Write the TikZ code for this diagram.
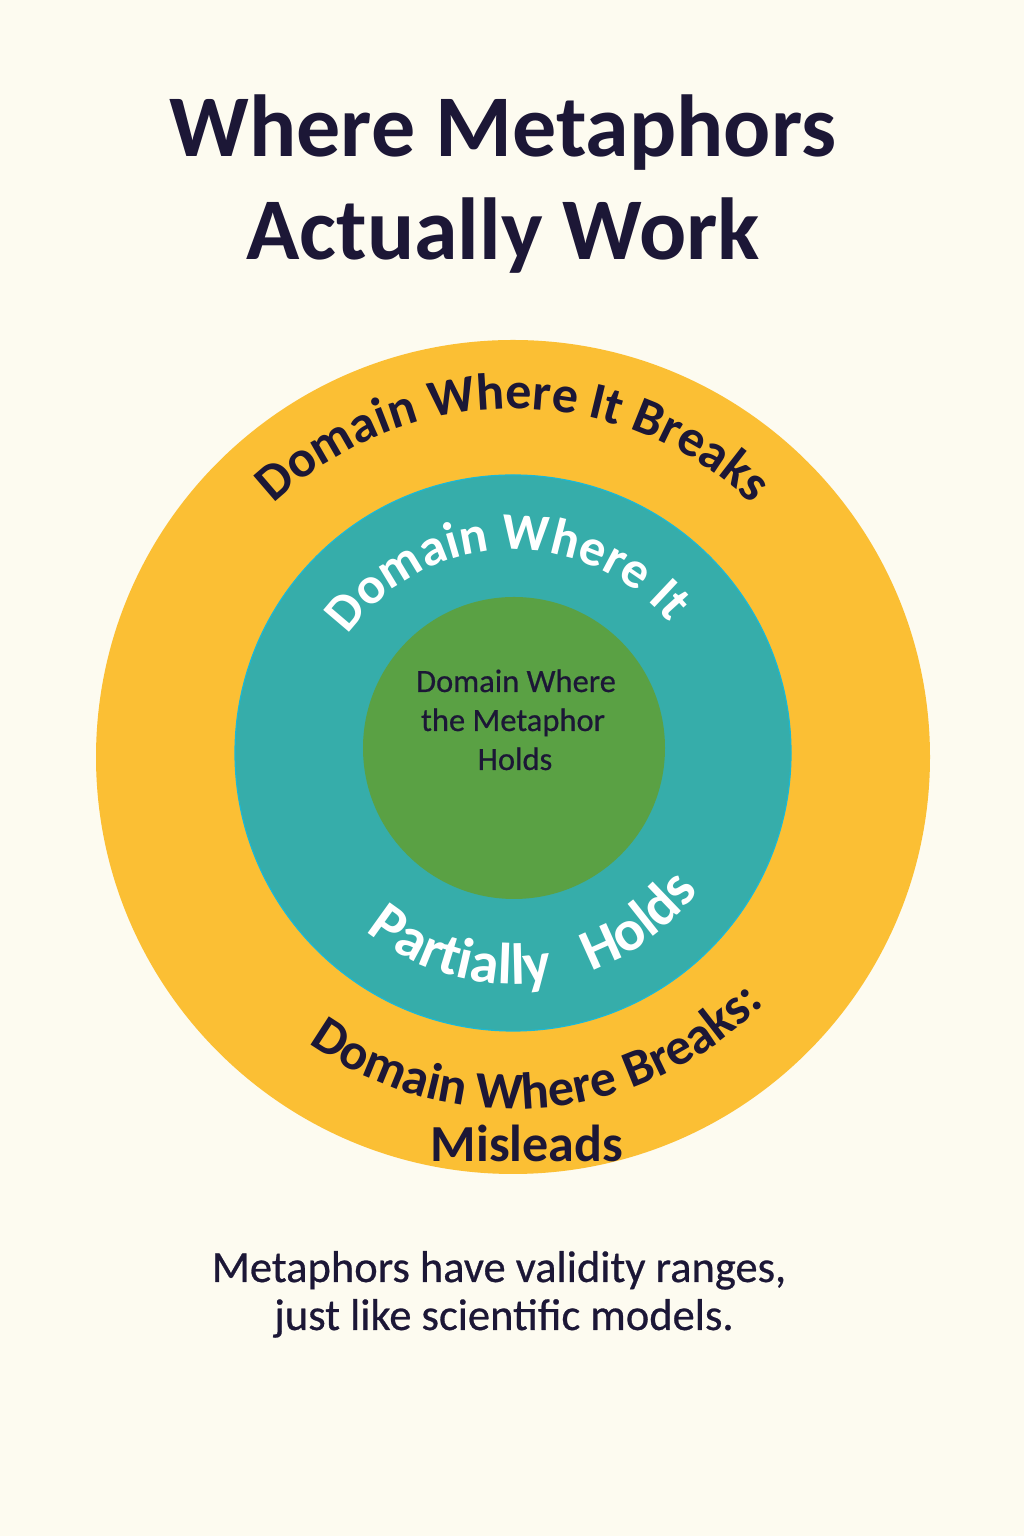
\documentclass[tikz,border=0pt]{standalone}
\usepackage{fontspec}
\setmainfont{Carlito}
\newfontfamily\medfont{Carlito}[FakeBold=0.6]
\usetikzlibrary{decorations.text,calc}
\definecolor{bgcol}{HTML}{FDFBF0}
\definecolor{ringY}{HTML}{FBBF34}
\definecolor{ringT}{HTML}{36ADAA}
\definecolor{ringG}{HTML}{5AA144}
\definecolor{ink}{HTML}{1C1736}
\begin{document}
\begin{tikzpicture}[x=1pt,y=1pt,
  titletext/.style={font=\fontsize{88}{103}\selectfont\bfseries, text=ink, align=center, inner sep=0pt},
  captext/.style={font=\fontsize{44.5}{48}\selectfont\medfont, text=ink, align=center, inner sep=0pt},
  coretext/.style={font=\fontsize{32.5}{39}\selectfont\medfont, text=ink, align=center, inner sep=0pt},
  ringtext/.style={font=\fontsize{52}{60}\selectfont\bfseries, text=ink, inner sep=0pt}
]
\useasboundingbox (0,0) rectangle (1024,1536);
\fill[bgcol] (0,0) rectangle (1024,1536);

% centres
\coordinate (cY) at (513,779);
\coordinate (cT) at (513,783);
\coordinate (cG) at (514,788);

% discs
\fill[ringY] (cY) circle[radius=417];
\fill[ringT] (cT) circle[radius=278];
\draw[ringT!80!blue!60!cyan, line width=1.2pt] (cT) circle[radius=278];
\fill[ringG] (cG) circle[radius=151];

% title
\node[titletext, anchor=base] (title1) at (503,1379) {Where Metaphors};
\node[titletext, anchor=base] (title2) at (503,1276) {Actually Work};

% core text
\node[coretext, anchor=base] (core1) at (516,844) {Domain Where};
\node[coretext, anchor=base] (core2) at (513,805) {the Metaphor};
\node[coretext, anchor=base] (core3) at (515,766) {Holds};

% outer ring, top
\path[decorate, decoration={text along path, text align=center,
  text={|\color{ink}\fontsize{52}{60}\selectfont\bfseries|Domain Where It Breaks}}]
  ($(cY)+(165:348)$) arc[start angle=165, end angle=15, radius=348];

% teal ring, top
\path[decorate, decoration={text along path, text align=center,
  text={|\color{white}\fontsize{52}{60}\selectfont\bfseries|Domain Where It}}]
  ($(cT)+(175:203)$) arc[start angle=175, end angle=9, radius=203];

% teal ring, bottom
\path[decorate, decoration={text along path, text align=center,
  text={|\color{white}\fontsize{58}{66}\selectfont\bfseries|Partially{ }{ }{ }Holds}}]
  ($(cT)+(191:231)$) arc[start angle=191, end angle=363, radius=231];

% outer ring, bottom
\path[decorate, decoration={text along path, text align=center,
  text={|\color{ink}\fontsize{52}{60}\selectfont\bfseries|Domain Where Breaks:}}]
  ($(cY)+(195:352)$) arc[start angle=195, end angle=355, radius=352];
\node[ringtext, anchor=base] (misleads) at (527,374) {Misleads};

% caption
\node[captext, anchor=base] (cap1) at (499,254) {Metaphors have validity ranges,};
\node[captext, anchor=base] (cap2) at (504,206) {just like scientific models.};
\end{tikzpicture}
\end{document}
